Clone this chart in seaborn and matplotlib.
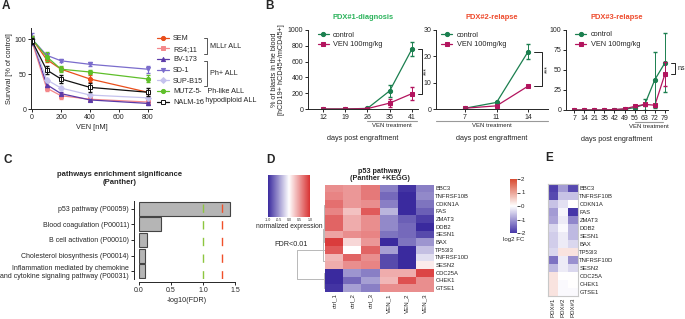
import numpy as np
import pandas as pd
import seaborn as sns
import matplotlib.pyplot as plt
from matplotlib.colors import LinearSegmentedColormap
from matplotlib.lines import Line2D
from matplotlib.transforms import blended_transform_factory

# ---------------- data: panel A (cell line survival) ----------------
conc = [0, 100, 200, 400, 800]
cell_lines = ["SEM", "RS4;11", "BV-173", "SD-1", "SUP-B15", "MUTZ-5", "NALM-16"]
surv_sem = [100, 71, 57, 43, 24]
surv_rs411 = [96, 30, 19, 14, 10]
surv_bv173 = [100, 35, 22, 13, 8]
surv_sd1 = [100, 77, 69, 64, 57]
surv_supb15 = [100, 42, 30, 20, 16]
surv_mutz5 = [100, 75, 57, 53, 43]
surv_nalm16 = [97, 56, 43, 31, 24]
err_sem = [4, 3, 3, 5, 2]
err_rs411 = [4, 4, 4, 3, 3]
err_bv173 = [5, 3, 2, 2, 2]
err_sd1 = [9, 3, 2, 3, 5]
err_supb15 = [4, 3, 3, 2, 2]
err_mutz5 = [4, 6, 4, 3, 5]
err_nalm16 = [4, 6, 6, 6, 6]

# ---------------- data: panel B (PDX blasts) ----------------
pdx1_days = ["12", "19", "26", "35", "41"]
pdx1_ctrl = [0, 0, 8, 230, 760]
pdx1_ctrl_err = [0, 0, 4, 80, 85]
pdx1_ven = [0, 0, 5, 75, 195]
pdx1_ven_err = [0, 0, 3, 50, 80]

pdx2_days = ["7", "11", "14"]
pdx2_ctrl = [0.3, 2.5, 21.8]
pdx2_ctrl_err = [0.1, 0.3, 2.8]
pdx2_ven = [0.3, 1.2, 8.7]
pdx2_ven_err = [0.1, 0.2, 0.3]

pdx3_days = ["7", "14", "21", "35", "42", "49", "56", "63", "72", "79"]
pdx3_ctrl = [0, 0, 0, 0, 0.5, 1, 3, 7, 38, 59]
pdx3_ctrl_err = [0, 0, 0, 0, 0.3, 0.5, 1, 7, 35, 37]
pdx3_ven = [0, 0, 0, 0, 0.5, 1.5, 4.5, 7, 6, 45]
pdx3_ven_err = [0, 0, 0, 0, 0.3, 0.5, 1, 2, 2, 15]

# ---------------- data: panel C (enrichment) ----------------
pathways = ["p53 pathway (P00059)", "Blood coagulation (P00011)",
            "B cell activation (P00010)", "Cholesterol biosynthesis (P00014)",
            "Inflammation mediated by chemokine\nand cytokine signaling pathway (P00031)"]
neg_log_fdr = [1.42, 0.34, 0.12, 0.09, 0.09]

# ---------------- data: panel D / E (p53 genes) ----------------
genes = ["BBC3", "TNFRSF10B", "CDKN1A", "FAS", "ZMAT3", "DDB2", "SESN1", "BAX",
         "TP53I3", "TNFRSF10D", "SESN2", "CDC25A", "CHEK1", "GTSE1"]
ctrl_1 = [0.55, 0.6, 0.7, 0.6, 0.75, 0.75, 0.45, 0.95, 0.8, 0.35, 0.4, -1.0, -1.0, -0.95]
ctrl_2 = [0.5, 0.5, 0.5, 0.3, 0.4, 0.4, 0.55, 0.2, 0.0, 0.75, 0.55, -0.5, -0.7, -0.45]
ctrl_3 = [0.65, 0.65, 0.55, 0.8, 0.55, 0.55, 0.6, 0.5, 0.75, 0.55, 0.6, -0.6, -0.45, -0.6]
ven_1 = [-0.6, -0.7, -0.6, -0.35, -0.55, -0.55, -0.65, -1.0, -0.45, -0.85, -0.85, 0.4, 0.35, 0.55]
ven_2 = [-0.95, -1.0, -1.0, -1.0, -0.75, -0.7, -0.7, -0.65, -1.0, -1.0, -1.0, 0.4, 0.85, 0.55]
ven_3 = [-0.6, -0.55, -0.65, -0.75, -0.9, -1.0, -0.85, -0.5, -0.3, -0.15, 0.1, 0.9, 0.55, 0.55]

fc_pdx1 = [-1.9, -1.8, -0.6, -1.0, -0.9, -0.4, -0.5, -0.5, -0.4, -1.4, -0.7, 0.3, 0.3, 0.3]
fc_pdx2 = [-1.0, -0.6, -0.3, -0.1, -0.2, -0.05, -0.2, -0.2, 0.3, -0.2, -0.2, 0.0, -0.05, -0.05]
fc_pdx3 = [-1.8, -0.6, 0.0, -2.0, -1.2, -0.7, -0.7, -0.4, 0.3, -1.1, -0.4, 0.0, 0.0, -0.05]

# ---------------- style ----------------
sns.set_theme(style="ticks")
plt.rcParams['font.family'] = ['Liberation Sans', 'DejaVu Sans']
plt.rcParams['axes.unicode_minus'] = False
plt.rcParams['axes.linewidth'] = 0.7
plt.rcParams['xtick.major.width'] = 0.7
plt.rcParams['ytick.major.width'] = 0.7
plt.rcParams['xtick.major.size'] = 2
plt.rcParams['ytick.major.size'] = 2
plt.rcParams['xtick.major.pad'] = 1.5
plt.rcParams['ytick.major.pad'] = 1.5

W, H = 685, 319
fig = plt.figure(figsize=(W / 100, H / 100), dpi=100)


def box(x0, y0, x1, y1):
    return fig.add_axes([x0 / W, 1 - y1 / H, (x1 - x0) / W, (y1 - y0) / H])


def ftext(x, y, s, **kw):
    fig.text(x / W, 1 - y / H, s, **kw)


def fline(xs, ys, **kw):
    fig.add_artist(Line2D([x / W for x in xs], [1 - y / H for y in ys], **kw))


TICK = 5
green_d = "#1b7f4f"
magenta = "#b3145e"

# ---------------- panel A ----------------
axA = box(31, 28, 152, 109)
a_series = [
    ("SEM", surv_sem, err_sem, "#e94e1b", "o", "#e94e1b"),
    ("RS4;11", surv_rs411, err_rs411, "#f4878a", "s", "#f4878a"),
    ("BV-173", surv_bv173, err_bv173, "#5b3aa8", "^", "#5b3aa8"),
    ("SD-1", surv_sd1, err_sd1, "#7a6ccc", "v", "#7a6ccc"),
    ("SUP-B15", surv_supb15, err_supb15, "#c5c2ee", "D", "#c5c2ee"),
    ("MUTZ-5", surv_mutz5, err_mutz5, "#5fbf2a", "o", "#5fbf2a"),
    ("NALM-16", surv_nalm16, err_nalm16, "#111111", "s", "white"),
]
for name, vals, err, col, mk, fc in a_series:
    sns.lineplot(x=conc, y=vals, ax=axA, color=col, marker=mk, markersize=3,
                 markerfacecolor=fc, markeredgecolor=col, markeredgewidth=0.7,
                 linewidth=0.9, label=name)
    axA.errorbar(conc, vals, yerr=err, fmt="none", ecolor=col, elinewidth=0.7, capsize=1.2)
axA.set_xlim(-8, 830)
axA.set_ylim(0, 116)
axA.set_xticks([0, 200, 400, 600, 800])
axA.set_yticks([0, 50, 100])
axA.tick_params(labelsize=TICK)
axA.set_xlabel("VEN [nM]", fontsize=5.3, labelpad=2)
axA.set_ylabel("Survival [% of control]", fontsize=5.3, labelpad=1)
sns.despine(ax=axA)
axA.legend(loc="upper left", bbox_to_anchor=(157 / W, 1 - 35 / H), bbox_transform=fig.transFigure,
           frameon=False, fontsize=5.2, handlelength=1.6, handletextpad=0.6, labelspacing=0.5,
           borderaxespad=0, borderpad=0)
# group annotations
fline([204, 207, 207, 204], [38, 38, 54, 54], color="#555555", lw=0.7)
ftext(210, 46, "MLLr ALL", fontsize=5.2, va="center")
fline([204, 207, 207, 204], [61, 61, 86, 86], color="#555555", lw=0.7)
ftext(210, 73.5, "Ph+ ALL", fontsize=5.2, va="center")
ftext(199, 91, "-   Ph-like ALL", fontsize=5.2, va="center")
ftext(199, 100, "-  hypodiploid ALL", fontsize=5.2, va="center")


# ---------------- panel B ----------------
def pdx_panel(rect, days, ctrl, ctrl_err, ven, ven_err, ylim, yticks, title, tcolor,
              xlim, span, sig, sig_x, sig_text, legend_x):
    ax = box(*rect)
    x = np.arange(len(days))
    sns.lineplot(x=x, y=ctrl, ax=ax, color=green_d, marker="o", markersize=3,
                 markeredgecolor=green_d, linewidth=0.9, label="control")
    sns.lineplot(x=x, y=ven, ax=ax, color=magenta, marker="s", markersize=3,
                 markeredgecolor=magenta, linewidth=0.9, label="VEN 100mg/kg")
    ax.errorbar(x, ctrl, yerr=ctrl_err, fmt="none", ecolor=green_d, elinewidth=0.7, capsize=1.3)
    ax.errorbar(x, ven, yerr=ven_err, fmt="none", ecolor=magenta, elinewidth=0.7, capsize=1.3)
    ax.set_xlim(*xlim)
    ax.set_ylim(*ylim)
    ax.set_yticks(yticks)
    ax.set_xticks(x)
    ax.set_xticklabels(days)
    ax.tick_params(labelsize=TICK)
    sns.despine(ax=ax)
    ax.set_title(title, color=tcolor, fontsize=5.4, fontweight="bold", pad=8)
    ax.legend(loc="upper left", bbox_to_anchor=(legend_x, 1.02), frameon=False, fontsize=5.3,
              handlelength=1.5, handletextpad=0.6, labelspacing=0.35, borderaxespad=0)
    tr = blended_transform_factory(ax.transData, ax.transAxes)
    ax.plot([span[0], span[1]], [-0.155, -0.155], transform=tr, color="#999999", lw=0.8, clip_on=False)
    ax.text((span[0] + span[1]) / 2, -0.21, "VEN treatment", transform=tr, fontsize=4.3,
            ha="center", va="center")
    ax.set_xlabel("days post engraftment", fontsize=5.2)
    ax.xaxis.set_label_coords(0.5, -0.33)
    # significance bracket
    top, bot = sig
    ax.plot([sig_x[0], sig_x[1], sig_x[1], sig_x[0]], [top, top, bot, bot], color="#222222",
            lw=0.7, clip_on=False)
    if sig_text == "ns":
        ax.text(sig_x[1] + 0.3 * (sig_x[1] - sig_x[0]) + 0.1, (top + bot) / 2, "ns", fontsize=5,
                va="center", ha="left")
    else:
        ax.text(sig_x[1] + 0.06, (top + bot) / 2, sig_text, fontsize=5, rotation=90,
                va="center", ha="left")
    return ax


axB1 = pdx_panel((308, 30, 418, 109), pdx1_days, pdx1_ctrl, pdx1_ctrl_err, pdx1_ven, pdx1_ven_err,
                 (0, 1000), [0, 200, 400, 600, 800, 1000], "PDX#1-diagnosis", "#2bb35b",
                 (-0.67, 4.27), (1.98, 4.22), (760, 195), (4.28, 4.45), "***", 0.06)
axB2 = pdx_panel((436, 30, 548, 109), pdx2_days, pdx2_ctrl, pdx2_ctrl_err, pdx2_ven, pdx2_ven_err,
                 (0, 30), [0, 10, 20, 30], "PDX#2-relapse", "#ee4a2c",
                 (-0.92, 2.63), (-0.92, 2.63), (21.8, 8.7), (2.2, 2.44), "***", 0.02)
axB3 = pdx_panel((566, 30, 668, 110), pdx3_days, pdx3_ctrl, pdx3_ctrl_err, pdx3_ven, pdx3_ven_err,
                 (0, 100), [0, 25, 50, 75, 100], "PDX#3-relapse", "#ee4a2c",
                 (-0.8, 9.3), (6.0, 8.8), (59, 45), (9.6, 10.0), "ns", 0.06)
axB1.set_ylabel("% of blasts in the blood\n[hCD19+ hCD45+/mCD45+]", fontsize=5.2, labelpad=2,
                 linespacing=1.0)

# ---------------- panel C ----------------
axC = box(139, 201, 235, 279)
sns.barplot(x=neg_log_fdr, y=pathways, orient="h", color="#b5b5b5", edgecolor="#444444",
            linewidth=0.8, width=0.9, saturation=1, ax=axC)
axC.axvline(1.0, color="#8dc63f", lw=1.0, ls=(0, (6, 6)))
axC.axvline(1.3, color="#f0502a", lw=1.0, ls=(0, (6, 6)))
axC.set_xlim(0, 1.5)
axC.set_xticks([0, 0.5, 1.0, 1.5])
axC.set_xticklabels(["0.0", "0.5", "1.0", "1.5"])
axC.tick_params(labelsize=TICK)
axC.set_xlabel("-log10(FDR)", fontsize=5.2, labelpad=2)
axC.set_ylabel("")
sns.despine(ax=axC)
axC.spines["left"].set_position(("outward", 3.6))
axC.spines["bottom"].set_position(("outward", 2.5))
ftext(120, 174, "pathways enrichment significance", fontsize=5.5, fontweight="bold", ha="center", va="center")
ftext(120, 183, "(Panther)", fontsize=5.5, fontweight="bold", ha="center", va="center")

# ---------------- panel D ----------------
cmapD = LinearSegmentedColormap.from_list("bwrD", ["#3a2a9e", "#ffffff", "#d83232"])
dfD = pd.DataFrame({"ctrl_1": ctrl_1, "ctrl_2": ctrl_2, "ctrl_3": ctrl_3,
                    "VEN_1": ven_1, "VEN_2": ven_2, "VEN_3": ven_3}, index=genes)
axD = box(325, 184.5, 434, 292)
caxD = box(268, 175, 310, 217)
sns.heatmap(dfD, ax=axD, cmap=cmapD, vmin=-1, vmax=1, cbar_ax=caxD,
            xticklabels=True, yticklabels=True,
            cbar_kws={"orientation": "horizontal", "ticks": [-1, -0.5, 0, 0.5, 1]})
axD.yaxis.tick_right()
axD.tick_params(axis="y", labelsize=4.2, rotation=0)
axD.tick_params(axis="x", labelsize=4.4, rotation=90)
axD.tick_params(length=0, pad=1)
axD.set_title("p53 pathway\n(Panther +KEGG)", fontsize=5.2, fontweight="bold", pad=3, linespacing=1.1)
caxD.set_xticklabels(["-1.0", "-0.5", "0.0", "0.5", "1.0"])
caxD.tick_params(labelsize=2.6, length=0, pad=0.5)
caxD.set_xlabel("normalized expression", fontsize=4.8, labelpad=1)
ftext(291, 245, "FDR<0.01", fontsize=5.2, ha="center", va="center")


# dendrogram: order preserving average linkage (correlation distance)
def adjacent_linkage(mat):
    dist = 1 - np.corrcoef(mat)
    clusters = [[i] for i in range(len(mat))]
    nodes = [(i + 0.5, 0.0) for i in range(len(mat))]
    links = []
    while len(clusters) > 1:
        ds = [dist[np.ix_(clusters[k], clusters[k + 1])].mean() for k in range(len(clusters) - 1)]
        k = int(np.argmin(ds))
        d = max(ds[k], nodes[k][1], nodes[k + 1][1])
        (y1, h1), (y2, h2) = nodes[k], nodes[k + 1]
        links.append((y1, h1, y2, h2, d))
        clusters[k:k + 2] = [clusters[k] + clusters[k + 1]]
        nodes[k:k + 2] = [((y1 + y2) / 2, d)]
    return links


axDen = box(296, 184.5, 325, 292)
links = adjacent_linkage(dfD.values)
for y1, h1, y2, h2, d in links:
    axDen.plot([h1, d, d, h2], [y1, y1, y2, y2], color="#b8b8b8", lw=0.7)
axDen.set_ylim(len(genes), 0)
axDen.set_xlim(max(l[4] for l in links) * 1.05, 0)
axDen.axis("off")

# ---------------- panel E ----------------
cmapE = LinearSegmentedColormap.from_list("bwrE", ["#4636a8", "#ffffff", "#d84a30"])
dfE = pd.DataFrame({"PDX#1": fc_pdx1, "PDX#2": fc_pdx2, "PDX#3": fc_pdx3}, index=genes)
axE = box(548, 184, 578, 296)
caxE = box(510, 179, 517, 233)
sns.heatmap(dfE, ax=axE, cmap=cmapE, vmin=-2, vmax=2, cbar_ax=caxE,
            xticklabels=True, yticklabels=True,
            cbar_kws={"ticks": [-2, -1, 0, 1, 2]})
axE.yaxis.tick_right()
axE.tick_params(axis="y", labelsize=4.2, rotation=0)
axE.tick_params(axis="x", labelsize=4.4, rotation=90)
axE.tick_params(length=0, pad=1)
for s in axE.spines.values():
    s.set_visible(True)
    s.set_color("#c8c8c8")
    s.set_linewidth(0.8)
caxE.tick_params(labelsize=4.4, length=2, width=0.6, pad=1)
caxE.set_xlabel("log2 FC", fontsize=4.4, labelpad=3)

# ---------------- panel letters ----------------
for letter, x, y in [("A", 2, 6), ("B", 265, 6), ("C", 3, 160), ("D", 266, 160), ("E", 545, 158)]:
    ftext(x, y, letter, fontsize=8.5, fontweight="bold", ha="left", va="center")

fig.savefig("out.png", dpi=100)
